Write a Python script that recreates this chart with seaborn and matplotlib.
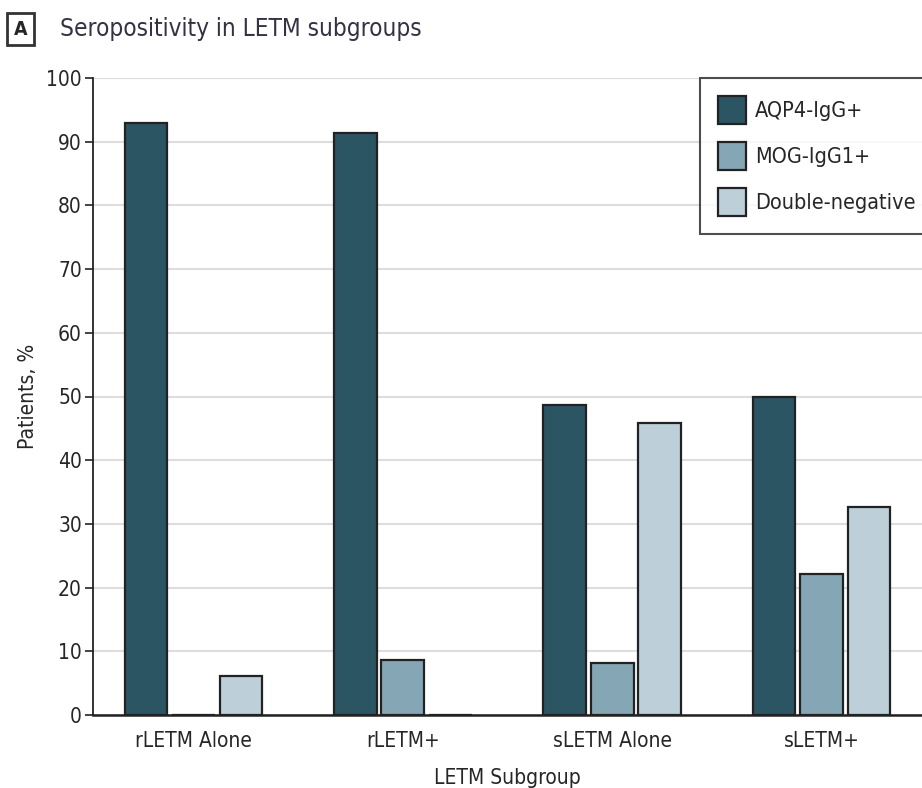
import pandas as pd
import numpy as np
import seaborn as sns
import matplotlib.pyplot as plt

subgroups = ["rLETM Alone", "rLETM+", "sLETM Alone", "sLETM+"]
serostatus = ["AQP4-IgG+", "MOG-IgG1+", "Double-negative"]
aqp4 = [92.9, 91.3, 48.6, 50.0]
mog = [0.0, 8.7, 8.1, 22.1]
double_neg = [6.1, 0.0, 45.9, 32.6]
colors = ["#2c5563", "#85a7b5", "#bdd0d9"]

df = pd.DataFrame({"Subgroup": subgroups, "AQP4-IgG+": aqp4,
                   "MOG-IgG1+": mog, "Double-negative": double_neg})
df = df.melt(id_vars="Subgroup", var_name="Status", value_name="Percent")

sns.set_style("white")
plt.rcParams["font.family"] = ["DejaVu Sans"]
plt.rcParams["font.stretch"] = "condensed"

fig = plt.figure(figsize=(9.22, 7.88), dpi=100)
ax = fig.add_axes([93 / 922, 1 - 715 / 788, 1 - 93 / 922, (715 - 78) / 788])

sns.barplot(data=df, x="Subgroup", y="Percent", hue="Status",
            order=subgroups, hue_order=serostatus, palette=colors,
            saturation=1, width=0.68, gap=0.1, edgecolor="#222222",
            linewidth=1.6, ax=ax, zorder=3)

ax.set_ylim(0, 100)
ax.set_xlim(-0.48, 3.48)
ax.set_yticks(np.arange(0, 101, 10))
ax.yaxis.grid(True, color="#dddddd", linewidth=1.5, zorder=0)
ax.set_axisbelow(True)
for s in ["top", "right"]:
    ax.spines[s].set_visible(False)
ax.spines["left"].set_color("#222222")
ax.spines["bottom"].set_color("#222222")
ax.spines["left"].set_linewidth(1.3)
ax.spines["bottom"].set_linewidth(1.8)
ax.tick_params(axis="y", left=True, length=6, width=1.2, color="#222222",
               labelsize=15, pad=2)
ax.tick_params(axis="x", bottom=False, labelsize=15, pad=8)
ax.set_ylabel("Patients, %", fontsize=15, labelpad=6)
ax.set_xlabel("LETM Subgroup", fontsize=15, labelpad=12)

leg = ax.legend(loc="upper left", bbox_to_anchor=(0.732, 1.0), fontsize=15.5,
                frameon=True, fancybox=False, edgecolor="#222222",
                borderaxespad=0, handlelength=1.3, handleheight=1.6,
                borderpad=0.85, labelspacing=0.85, handletextpad=0.4)
leg.get_frame().set_linewidth(1.5)

fig.text(0.022, 0.963, "A", fontsize=14, fontweight="bold", va="center",
         ha="center",
         bbox=dict(boxstyle="square,pad=0.35", fc="white", ec="#333333", lw=2))
fig.text(0.065, 0.963, "Seropositivity in LETM subgroups", fontsize=17.5,
         va="center", ha="left", color="#333344")

fig.savefig("out.png", dpi=100)
